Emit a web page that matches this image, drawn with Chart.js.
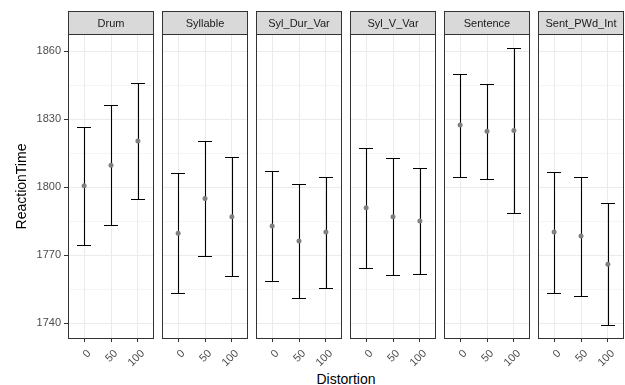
<!DOCTYPE html>
<html>
<head>
<meta charset="utf-8">
<script src="https://cdn.jsdelivr.net/npm/chart.js@4.4.1/dist/chart.umd.min.js"></script>
<style>
  body { margin: 0; background: #fff; }
  #wrap { position: relative; width: 625px; height: 385px; overflow: hidden; background: #fff; }
  canvas { position: absolute; top: 0; }
  #xtitle {
    position: absolute; left: 68px; width: 556px; top: 371px;
    text-align: center; line-height: 16px; color: #000;
    font: 14px "Liberation Sans", Arial, sans-serif;
  }
</style>
</head>
<body>
<div id="wrap"><div id="xtitle">Distortion</div></div>
<script>
// facets, x categories and the values
const conditions = ['Drum', 'Syllable', 'Syl_Dur_Var', 'Syl_V_Var', 'Sentence', 'Sent_PWd_Int'];
const distortions = ['0', '50', '100'];
const meanRT = [
  [1800.6, 1809.7, 1820.4],
  [1779.7, 1795.0, 1787.0],
  [1782.9, 1776.3, 1780.2],
  [1790.9, 1787.0, 1785.1],
  [1827.4, 1824.7, 1825.0],
  [1780.2, 1778.4, 1766.0]
];
const lowerRT = [
  [1774.6, 1783.4, 1794.8],
  [1753.1, 1769.6, 1760.9],
  [1758.8, 1751.0, 1755.7],
  [1764.4, 1761.3, 1761.9],
  [1804.6, 1803.7, 1788.7],
  [1753.3, 1752.1, 1739.1]
];
const upperRT = [
  [1826.6, 1836.2, 1845.9],
  [1806.4, 1820.4, 1813.1],
  [1807.1, 1801.5, 1804.7],
  [1817.3, 1812.8, 1808.5],
  [1850.1, 1845.7, 1861.5],
  [1806.9, 1804.7, 1792.8]
];
const yTicks = [1740, 1770, 1800, 1830, 1860];

Chart.defaults.font.family = '"Liberation Sans", Arial, sans-serif';

// major ticks plus the minor ones half way between
const allY = [];
yTicks.forEach((v, k) => {
  allY.push(v);
  if (k < yTicks.length - 1) allY.push((v + yTicks[k + 1]) / 2);
});
const isMajor = v => yTicks.includes(v);
const crisp = p => Math.round(p) + 0.5;

// strip, panel border and error bars
const panelDeco = {
  id: 'panelDeco',
  beforeDatasetsDraw(chart, args, opts) {
    const { ctx, scales: { x, y } } = chart;
    const i = opts.index;
    ctx.save();
    ctx.strokeStyle = '#000';
    ctx.lineWidth = 1.1;
    distortions.forEach((d, j) => {
      const cx = crisp(x.getPixelForValue(j + 1));
      const x0 = Math.round(x.getPixelForValue(j + 0.75));
      const x1 = Math.round(x.getPixelForValue(j + 1.25));
      const yl = crisp(y.getPixelForValue(lowerRT[i][j]));
      const yh = crisp(y.getPixelForValue(upperRT[i][j]));
      ctx.beginPath();
      ctx.moveTo(cx, yl); ctx.lineTo(cx, yh);
      ctx.moveTo(x0, yl); ctx.lineTo(x1, yl);
      ctx.moveTo(x0, yh); ctx.lineTo(x1, yh);
      ctx.stroke();
    });
    ctx.restore();
  },
  afterDraw(chart, args, opts) {
    const { ctx, chartArea: a } = chart;
    const l = Math.round(a.left) + 0.5, r = Math.round(a.right) - 0.5;
    const t = Math.round(a.top) + 0.5, b = Math.round(a.bottom) - 0.5;
    ctx.save();
    ctx.fillStyle = '#d9d9d9';
    ctx.fillRect(l, 11.5, r - l, t - 11.5);
    ctx.strokeStyle = '#333';
    ctx.lineWidth = 1;
    ctx.strokeRect(l, 11.5, r - l, t - 11.5);
    ctx.strokeRect(l, t, r - l, b - t);
    ctx.fillStyle = '#1a1a1a';
    ctx.font = '11px "Liberation Sans", Arial, sans-serif';
    ctx.textAlign = 'center';
    ctx.textBaseline = 'middle';
    ctx.fillText(conditions[opts.index], (l + r) / 2, (11.5 + t) / 2 + 0.5);
    ctx.restore();
  }
};

const wrap = document.getElementById('wrap');

conditions.forEach((name, i) => {
  const first = i === 0;
  const panelLeft = 68 + 94 * i;
  const canvas = document.createElement('canvas');
  const w = first ? 158 : 94;
  canvas.width = w;
  canvas.height = 385;
  canvas.style.left = (first ? 0 : panelLeft - 4) + 'px';
  wrap.appendChild(canvas);

  new Chart(canvas.getContext('2d'), {
    type: 'line',
    data: {
      datasets: [{
        data: meanRT[i].map((v, j) => ({ x: j + 1, y: v })),
        showLine: false,
        pointRadius: 2.5,
        pointBackgroundColor: '#808080',
        pointBorderWidth: 0
      }]
    },
    options: {
      responsive: false,
      devicePixelRatio: 1,
      animation: false,
      layout: { padding: { top: 34, left: first ? 0 : 4, right: 4, bottom: 0 } },
      plugins: {
        legend: { display: false },
        tooltip: { enabled: false },
        panelDeco: { index: i }
      },
      scales: {
        x: {
          type: 'linear',
          min: 0.4,
          max: 3.6,
          afterBuildTicks: s => { s.ticks = distortions.map((d, j) => ({ value: j + 1 })); },
          afterFit: s => { s.height = 46; },
          border: { display: false },
          grid: { color: '#ebebeb', lineWidth: 1, tickLength: 3, tickColor: '#333' },
          ticks: {
            minRotation: 45, maxRotation: 45, padding: 5, labelOffset: 5,
            color: '#4d4d4d', font: { size: 11 },
            callback: v => distortions[v - 1]
          }
        },
        y: {
          min: 1733.0,
          max: 1867.6,
          afterBuildTicks: s => { s.ticks = allY.map(v => ({ value: v })); },
          afterFit: s => { s.width = first ? 68 : 0; },
          border: { display: false },
          grid: {
            color: '#ebebeb',
            lineWidth: c => (c.tick && isMajor(c.tick.value)) ? 1 : 0.5,
            drawTicks: first,
            tickLength: 4,
            tickColor: c => (c.tick && isMajor(c.tick.value)) ? '#333' : 'rgba(0,0,0,0)'
          },
          ticks: {
            display: first,
            padding: 3,
            color: '#4d4d4d',
            font: { size: 11 },
            callback: v => isMajor(v) ? String(v) : ''
          },
          title: {
            display: first,
            text: 'ReactionTime',
            color: '#000',
            font: { size: 14 },
            padding: { top: 14, bottom: 0 }
          }
        }
      }
    },
    plugins: [panelDeco]
  });
});
</script>
</body>
</html>
